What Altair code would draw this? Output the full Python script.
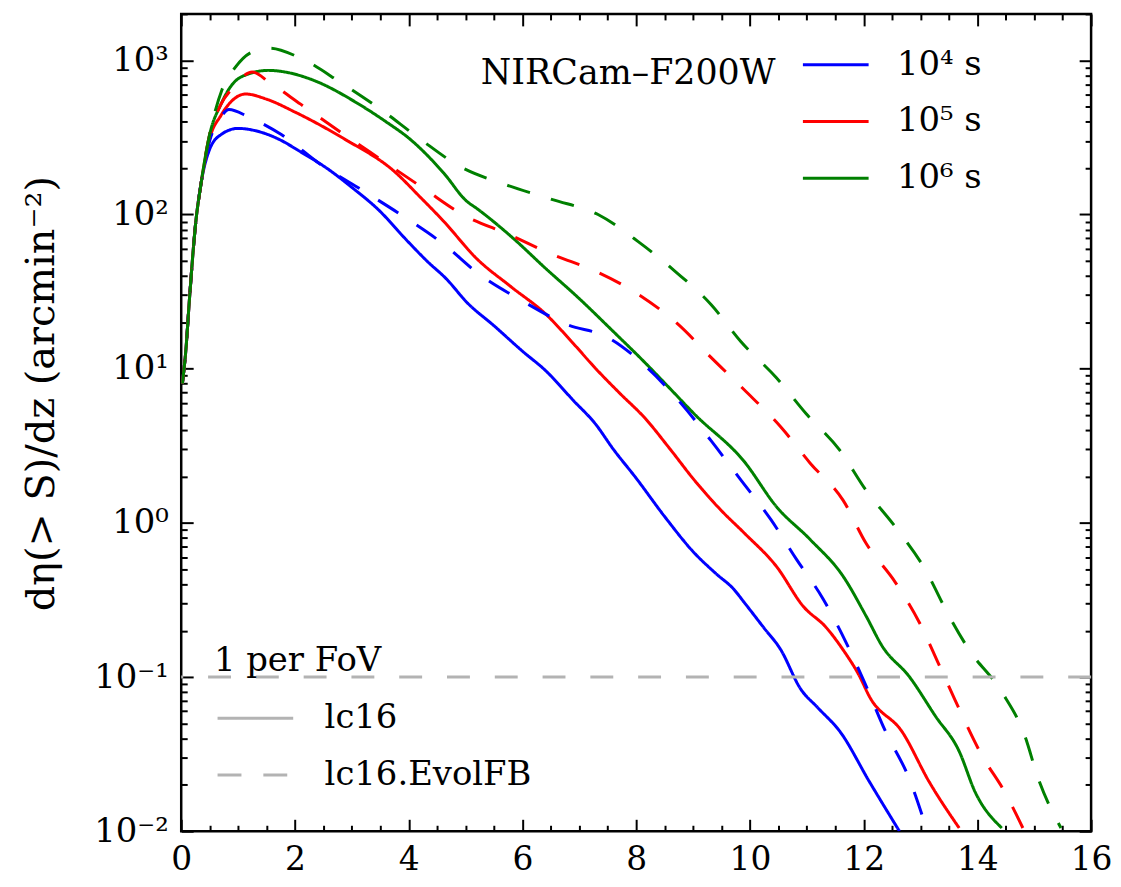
import altair as alt
import pandas as pd

# ---------------- data ----------------
exposures = ["10⁴ s", "10⁵ s", "10⁶ s"]
colors = ["#0000ff", "#ff0000", "#008000"]
models = ["lc16", "lc16.EvolFB"]

blue_lc16_z = [0.02, 0.08, 0.15, 0.25, 0.35, 0.5, 0.7, 1.0, 1.3, 1.7, 2.1, 2.6, 3.0, 3.45, 4.0,
               4.32, 4.67, 5.02, 5.5, 6.0, 6.41, 6.9, 7.28, 7.6, 8.0, 8.5, 9.02, 9.4, 9.72,
               9.9, 10.24, 10.54, 10.89, 11.2, 11.59, 12.1, 12.63]
blue_lc16_n = [8, 13, 30, 85, 160, 265, 330, 362, 350, 310, 255, 195, 150, 109, 66,
               50, 38, 27, 19, 13, 9.7, 6.2, 4.4, 3.0, 1.95, 1.1, 0.64, 0.47, 0.37,
               0.305, 0.21, 0.151, 0.084, 0.063, 0.044, 0.021, 0.01]

blue_evol_z = [0.02, 0.08, 0.15, 0.25, 0.35, 0.5, 0.7, 0.84, 1.18, 1.76, 2.46, 3.22, 3.97, 4.62, 5.24,
               6.0, 6.76, 7.51, 8.2, 8.8, 9.32, 9.84, 10.37, 10.82, 11.29, 11.69, 11.99, 12.39, 12.8, 13.12]
blue_evol_n = [8, 13, 30, 85, 160, 300, 430, 480, 430, 330, 210, 141, 94, 64, 41,
               27.5, 19.5, 15.9, 10.1, 5.9, 3.4, 1.9, 1.05, 0.58, 0.32, 0.168, 0.097, 0.044, 0.022, 0.01]

red_lc16_z = [0.02, 0.08, 0.15, 0.25, 0.35, 0.5, 0.7, 0.9, 1.13, 1.5, 2.0, 2.87, 3.75, 4.2, 4.62,
              5.19, 5.8, 6.41, 6.9, 7.28, 7.7, 8.15, 8.6, 9.02, 9.5, 9.9, 10.47, 10.94, 11.34, 11.64,
              11.93, 12.1, 12.68, 13.15, 13.68]
red_lc16_n = [8, 13, 30, 85, 160, 310, 440, 550, 605, 560, 462, 309, 190, 130, 90,
              52, 34, 22.6, 14.5, 10.1, 7.0, 4.8, 3.0, 1.9, 1.2, 0.86, 0.52, 0.287, 0.21, 0.15,
              0.101, 0.075, 0.044, 0.021, 0.0105]

red_evol_z = [0.02, 0.08, 0.15, 0.25, 0.35, 0.5, 0.7, 0.9, 1.25, 1.55, 2.1, 2.8, 3.57, 4.27, 4.95,
              5.77, 6.53, 7.28, 8.03, 8.73, 9.32, 9.9, 10.54, 11.06, 11.64, 12.04, 12.56, 12.98, 13.3, 13.6,
              14.08, 14.48, 14.8]
red_evol_n = [8, 13, 30, 85, 160, 330, 520, 660, 840, 720, 520, 343, 220, 147, 100,
              74, 55, 43, 30.5, 19.5, 11.8, 7.3, 4.2, 2.44, 1.4, 0.74, 0.41, 0.226, 0.126, 0.072,
              0.031, 0.018, 0.0105]

green_lc16_z = [0.02, 0.08, 0.15, 0.25, 0.35, 0.5, 0.7, 0.9, 1.2, 1.53, 1.9, 2.28, 3.15, 3.6, 4.02,
                4.62, 5.02, 5.19, 5.84, 6.4, 6.99, 7.6, 8.15, 8.6, 9.02, 9.9, 10.47, 11.06, 11.64, 12.04,
                12.33, 12.8, 13.26, 13.68, 13.96, 14.43]
green_lc16_n = [8, 13, 30, 85, 160, 330, 520, 700, 820, 861, 830, 754, 513, 400, 309,
                185, 122, 110, 70, 45, 28.7, 17.4, 11, 7.4, 5.1, 2.5, 1.27, 0.78, 0.45, 0.25,
                0.158, 0.101, 0.056, 0.033, 0.018, 0.0105]

green_evol_z = [0.02, 0.08, 0.15, 0.25, 0.35, 0.5, 0.72, 0.95, 1.24, 1.55, 2.06, 2.8, 3.5, 4.2, 4.9,
                5.71, 6.53, 7.33, 8.03, 8.68, 9.32, 9.84, 10.47, 10.99, 11.58, 12.04, 12.56, 13.08, 13.5, 13.85,
                14.43, 14.83, 15.07, 15.47]
green_evol_n = [8, 13, 30, 85, 160, 330, 650, 900, 1130, 1200, 1050, 720, 483, 309, 205,
                156, 125, 100, 67, 43, 26, 15, 8.7, 5.1, 2.96, 1.63, 0.94, 0.5, 0.25, 0.151,
                0.08, 0.042, 0.022, 0.0105]

x_major = list(range(0, 17, 2))
x_minor = [i * 0.5 for i in range(0, 33) if i % 4 != 0]
y_major = [0.01, 0.1, 1, 10, 100, 1000]
y_minor = [k * 10.0 ** e for e in range(-2, 4) for k in range(2, 10) if k * 10.0 ** e <= 2000]
y_tick_text = ["10⁻²", "10⁻¹", "10⁰", "10¹", "10²", "10³"]

# ---------------- build table ----------------
series = [
    (blue_lc16_z, blue_lc16_n, exposures[0], models[0]),
    (red_lc16_z, red_lc16_n, exposures[1], models[0]),
    (green_lc16_z, green_lc16_n, exposures[2], models[0]),
    (blue_evol_z, blue_evol_n, exposures[0], models[1]),
    (red_evol_z, red_evol_n, exposures[1], models[1]),
    (green_evol_z, green_evol_n, exposures[2], models[1]),
]
rows = []
for zs, ns, ex, mo in series:
    for z, n in zip(zs, ns):
        rows.append({"z": z, "dndz": n, "exposure": ex, "model": mo, "series": ex + mo})
df = pd.DataFrame(rows)

W, H = 914, 821
FONT = "DejaVu Serif"
xscale = alt.Scale(domain=[0, 16], nice=False, zero=False)
yscale = alt.Scale(type="log", domain=[0.01, 2000], nice=False)

label_expr = ""
for v, t in zip(y_major, y_tick_text):
    label_expr += f"abs(datum.value - {v}) < {v}*1e-6 ? '{t}' : "
label_expr += "''"

lines = alt.Chart(df).mark_line(strokeWidth=3, interpolate="monotone", clip=True).encode(
    x=alt.X("z:Q", scale=xscale,
            axis=alt.Axis(orient="bottom", values=x_major, ticks=False, domain=False, grid=False,
                          labelFont=FONT, labelFontSize=33, labelPadding=12, labelColor="black",
                          labelFlush=False, labelOverlap=False, labelBound=False, title=None)),
    y=alt.Y("dndz:Q", scale=yscale,
            axis=alt.Axis(orient="left", values=y_major, labelExpr=label_expr, ticks=False,
                          domain=False, grid=False, labelFont=FONT, labelFontSize=34,
                          labelPadding=13, labelColor="black", labelOverlap=False,
                          title="dη(> S)/dz (arcmin⁻²)", titleFont=FONT, titleFontSize=40,
                          titleFontWeight="normal", titleColor="black", titleX=-120, titleY=381)),
    color=alt.Color("exposure:N", scale=alt.Scale(domain=exposures, range=colors),
                    legend=alt.Legend(orient="none", legendX=639.5, legendY=33, title=None,
                                      labelFont=FONT, labelFontSize=34, labelColor="black",
                                      labelLimit=400,
                                      symbolType="M-2,0H2", symbolStrokeWidth=3, symbolSize=1089,
                                      labelOffset=43.5, rowPadding=22, padding=0)),
    strokeDash=alt.StrokeDash("model:N", scale=alt.Scale(domain=models, range=[[1, 0], [24, 22]]),
                              legend=alt.Legend(orient="none", legendX=54, legendY=687, title=None,
                                                labelFont=FONT, labelFontSize=34, labelColor="black",
                                                labelLimit=400,
                                                symbolType="M-2,0H2", symbolStrokeWidth=3,
                                                symbolStrokeColor="#b3b3b3", symbolSize=1444,
                                                labelOffset=49, rowPadding=19, padding=0)),
    detail="series:N",
)

fov_df = pd.DataFrame({"dndz": [0.1]})
hline = alt.Chart(fov_df).mark_rule(stroke="#b3b3b3", strokeWidth=3, strokeDash=[23, 25]).encode(
    y=alt.Y("dndz:Q", scale=yscale, axis=None)
)

title_df = pd.DataFrame({"z": [7.86], "dndz": [830], "t": ["NIRCam–F200W"]})
title_txt = alt.Chart(title_df).mark_text(font=FONT, fontSize=35, align="center", baseline="middle",
                                          color="black").encode(
    x=alt.X("z:Q", scale=xscale, axis=None), y=alt.Y("dndz:Q", scale=yscale, axis=None), text="t:N")

fov_txt_df = pd.DataFrame({"z": [0.575], "dndz": [0.109], "t": ["1 per FoV"]})
fov_txt = alt.Chart(fov_txt_df).mark_text(font=FONT, fontSize=34, align="left", baseline="alphabetic",
                                          color="black").encode(
    x=alt.X("z:Q", scale=xscale, axis=None), y=alt.Y("dndz:Q", scale=yscale, axis=None), text="t:N")

dummy = pd.DataFrame({"z": [1.0], "dndz": [1.0]})
tick_common = dict(labels=False, domain=False, grid=False, ticks=True, tickWidth=2,
                   tickColor="black", title=None)


def tick_layer(xorient, yorient, xvals, yvals, size):
    return alt.Chart(dummy).mark_point(opacity=0).encode(
        x=alt.X("z:Q", scale=xscale, axis=alt.Axis(orient=xorient, offset=-H, values=xvals,
                                                   tickSize=size, **tick_common)),
        y=alt.Y("dndz:Q", scale=yscale, axis=alt.Axis(orient=yorient, offset=-W, values=yvals,
                                                      tickSize=size, **tick_common)),
    )


t1 = tick_layer("top", "right", x_major, y_major, 12)
t2 = tick_layer("bottom", "left", x_major, y_major, 12)
t3 = tick_layer("top", "right", x_minor, y_minor, 6)
t4 = tick_layer("bottom", "left", x_minor, y_minor, 6)

chart = alt.layer(lines, hline, title_txt, fov_txt, t1, t2, t3, t4).resolve_axis(
    x="independent", y="independent"
).properties(
    width=W, height=H,
    autosize=alt.AutoSizeParams(type="none"),
    padding={"left": 174, "top": 4, "right": 22, "bottom": 46},
    background="white",
).configure_view(stroke="black", strokeWidth=2.5)

chart.save("out.html", embed_options={"renderer": "svg", "actions": False})
